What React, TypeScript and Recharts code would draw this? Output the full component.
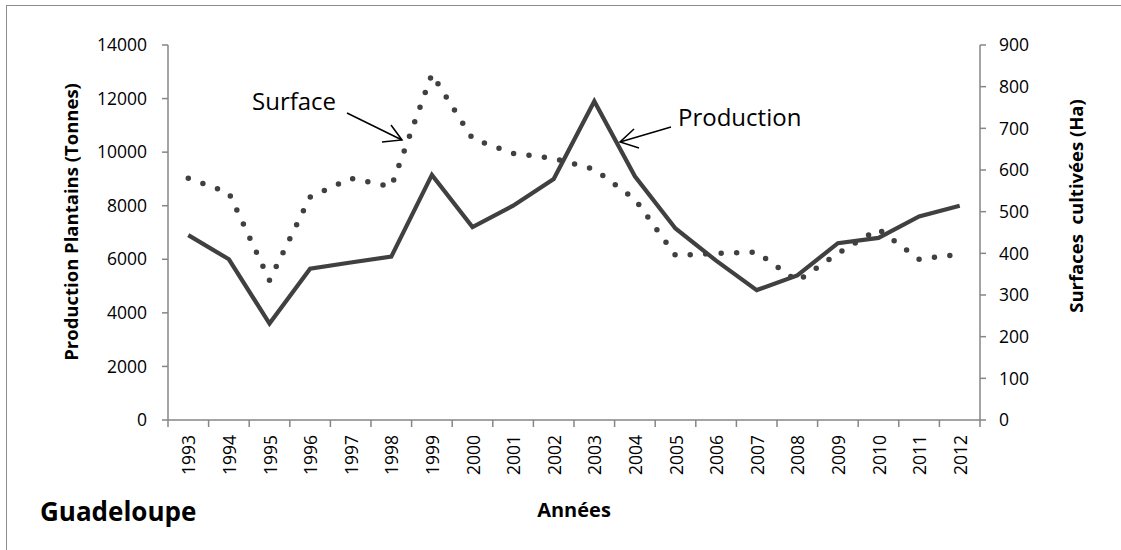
import React from 'react';
import { LineChart, Line, XAxis, YAxis } from 'recharts';

const YEARS = ['1993', '1994', '1995', '1996', '1997', '1998', '1999', '2000', '2001', '2002',
  '2003', '2004', '2005', '2006', '2007', '2008', '2009', '2010', '2011', '2012'];

// production (tonnes), left axis
const PRODUCTION = [6900, 6000, 3600, 5650, 5880, 6100, 9150, 7200, 8000, 9000,
  11900, 9100, 7150, 5950, 4850, 5400, 6600, 6800, 7600, 8000];

// surfaces cultivées (ha), right axis
const SURFACE = [580, 545, 335, 535, 580, 560, 830, 675, 640, 628,
  602, 530, 395, 400, 403, 333, 400, 458, 386, 398];

const LEFT_TICKS = [0, 2000, 4000, 6000, 8000, 10000, 12000, 14000];
const RIGHT_TICKS = [0, 100, 200, 300, 400, 500, 600, 700, 800, 900];

const data = YEARS.map((year, i) => ({ year, production: PRODUCTION[i], surface: SURFACE[i] }));

const W = 1121;
const H = 550;
const PLOT_LEFT = 168;
const PLOT_RIGHT = 980;
const PLOT_TOP = 45;
const PLOT_BOTTOM = 420;
const BAND = (PLOT_RIGHT - PLOT_LEFT) / YEARS.length;

const FONT = '"Open Sans", "Noto Sans", sans-serif';
const AXIS = '#868686';
const INK = '#404040';
const TICK_FONT = 17.5;

function YearTick(props: any) {
  const { x, y, payload, index } = props;
  return (
    <g>
      <line x1={x - BAND / 2} x2={x - BAND / 2} y1={y} y2={y + 7} stroke={AXIS} strokeWidth={1.5} />
      {index === YEARS.length - 1 && (
        <line x1={x + BAND / 2} x2={x + BAND / 2} y1={y} y2={y + 7} stroke={AXIS} strokeWidth={1.5} />
      )}
      <text
        transform={`translate(${x},${y + 15}) rotate(-90)`}
        textAnchor="end"
        dominantBaseline="central"
        fontSize={TICK_FONT}
        fontFamily={FONT}
        fill="#000"
      >
        {payload.value}
      </text>
    </g>
  );
}

export default function App() {
  return (
    <div style={{ position: 'absolute', left: 0, top: 0, width: W, height: H, background: '#fff', fontFamily: FONT }}>
      <div style={{ position: 'absolute', left: 6, top: 5, width: W + 20, height: H + 20, border: '1px solid #8c8c8c' }} />
      <LineChart
        width={W}
        height={H}
        data={data}
        margin={{ top: PLOT_TOP, right: 0, bottom: 0, left: 0 }}
        style={{ position: 'absolute', left: 0, top: 0 }}
      >
        <XAxis
          dataKey="year"
          scale="band"
          interval={0}
          height={H - PLOT_BOTTOM}
          tickLine={false}
          tickSize={0}
          tickMargin={0}
          axisLine={{ stroke: AXIS, strokeWidth: 1.5 }}
          tick={<YearTick />}
        />
        <YAxis
          yAxisId="left"
          orientation="left"
          width={PLOT_LEFT}
          domain={[0, 14000]}
          ticks={LEFT_TICKS}
          interval={0}
          tickSize={6}
          tickMargin={15}
          axisLine={{ stroke: AXIS, strokeWidth: 1.5 }}
          tickLine={{ stroke: AXIS, strokeWidth: 1.5 }}
          tick={{ fontSize: TICK_FONT, fill: '#000', fontFamily: FONT }}
        />
        <YAxis
          yAxisId="right"
          orientation="right"
          width={W - PLOT_RIGHT}
          domain={[0, 900]}
          ticks={RIGHT_TICKS}
          interval={0}
          tickSize={6}
          tickMargin={13}
          axisLine={{ stroke: AXIS, strokeWidth: 1.5 }}
          tickLine={{ stroke: AXIS, strokeWidth: 1.5 }}
          tick={{ fontSize: TICK_FONT, fill: '#000', fontFamily: FONT }}
        />
        <Line
          yAxisId="right"
          type="linear"
          dataKey="surface"
          stroke={INK}
          strokeWidth={5.5}
          strokeDasharray="0 15.5"
          strokeLinecap="round"
          dot={false}
          activeDot={false}
          isAnimationActive={false}
        />
        <Line
          yAxisId="left"
          type="linear"
          dataKey="production"
          stroke={INK}
          strokeWidth={4.2}
          dot={false}
          activeDot={false}
          isAnimationActive={false}
        />
      </LineChart>

      <svg width={W} height={H} style={{ position: 'absolute', left: 0, top: 0, pointerEvents: 'none' }}>
        <text transform="translate(78,222) rotate(-90)" textAnchor="middle" fontSize={18.5} fontWeight="bold" fontFamily={FONT} fill="#000">
          Production Plantains (Tonnes)
        </text>
        <text transform="translate(1083,206) rotate(-90)" textAnchor="middle" fontSize={18.5} fontWeight="bold" fontFamily={FONT} fill="#000" style={{ whiteSpace: 'pre' }}>
          {'Surfaces  cultivées (Ha)'}
        </text>
        <text x={(PLOT_LEFT + PLOT_RIGHT) / 2} y={517} textAnchor="middle" fontSize={20} fontWeight="bold" fontFamily={FONT} fill="#000">
          Années
        </text>
        <text x={40} y={521} fontSize={26} fontWeight="bold" fontFamily={FONT} fill="#000">
          Guadeloupe
        </text>

        <text x={252} y={110} fontSize={24} fontFamily={FONT} fill="#000">Surface</text>
        <polyline points="347,113 402,140" fill="none" stroke="#000" strokeWidth={1.5} />
        <polyline points="391,125 402,140 382,142" fill="none" stroke="#000" strokeWidth={1.5} />

        <text x={678} y={126} fontSize={24} fontFamily={FONT} fill="#000">Production</text>
        <polyline points="671,127 620,142" fill="none" stroke="#000" strokeWidth={1.5} />
        <polyline points="634,129 620,142 639,148" fill="none" stroke="#000" strokeWidth={1.5} />
      </svg>
    </div>
  );
}
